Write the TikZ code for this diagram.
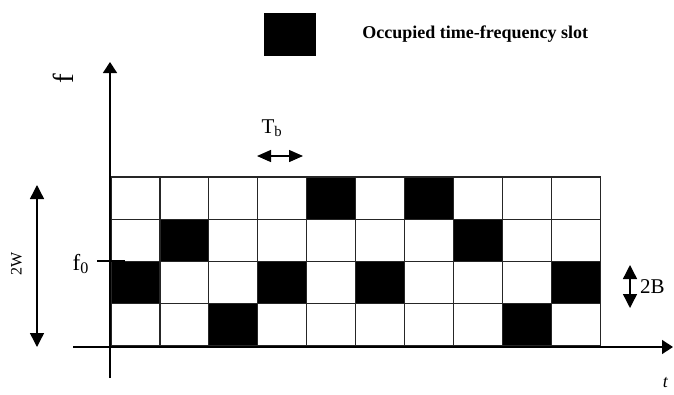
\documentclass[tikz,border=0pt]{standalone}
\usepackage{fontspec}
\setmainfont{Liberation Serif}
\usetikzlibrary{arrows.meta,positioning,calc}
\begin{document}
\begin{tikzpicture}[x=1pt,y=-1pt]
\useasboundingbox (0,0) rectangle (674,394);
\tikzstyle{slot} = [fill=black,draw=none,inner sep=0pt]
\tikzstyle{gridline} = [line width=1.1pt,draw=black!85]
\tikzstyle{axis} = [line width=1.4pt,-{Triangle[length=11pt,width=14pt]}]
\tikzstyle{span} = [line width=1.4pt,{Triangle[length=14pt,width=14pt]}-{Triangle[length=14pt,width=14pt]}]
\tikzstyle{lbl} = [inner sep=0pt,font=\fontsize{21}{21}\selectfont]
%%%%%%%%%%%%%%%%%%%%%%%%%%%%%
% legend
%%%%%%%%%%%%%%%%%%%%%%%%%%%%%
\node [slot,minimum width=52pt,minimum height=43pt] (key) at (290,34.5){};
\node (keytext) [anchor=west,inner sep=0pt,font=\fontsize{18}{18}\selectfont\bfseries] at ([xshift=46pt]key.east){Occupied time-frequency slot};
%%%%%%%%%%%%%%%%%%%%%%%%%%%%%
% occupied slots (column/row)
%%%%%%%%%%%%%%%%%%%%%%%%%%%%%
\foreach \c/\r in {5/1,7/1,2/2,8/2,1/3,4/3,6/3,10/3,3/4,9/4}
  \fill (111+48.95*\c-48.95,177+42.2*\r-42.2) rectangle ++(48.95,42.2);
\foreach \i in {0,...,10}
  \draw [gridline] (111+48.95*\i,177) -- (111+48.95*\i,346);
\foreach \j in {0,...,4}
  \draw [gridline] (111,177+42.2*\j) -- (600.5,177+42.2*\j);
%%%%%%%%%%%%%%%%%%%%%%%%%%%%%
% axes
%%%%%%%%%%%%%%%%%%%%%%%%%%%%%
\coordinate (fbot) at (110,378);
\coordinate (ftop) at (110,62);
\coordinate (tleft) at (73,347);
\coordinate (tright) at (673,347);
\draw [axis] (fbot) -- (ftop);
\draw [axis] (tleft) -- (tright);
\node (flbl) [lbl,rotate=90,font=\fontsize{29}{29}\selectfont] at (63,79){f};
\node (tlbl) [lbl,anchor=south east,font=\fontsize{18}{18}\selectfont\itshape] at (668,388){t};
%%%%%%%%%%%%%%%%%%%%%%%%%%%%%
% f0 marker
%%%%%%%%%%%%%%%%%%%%%%%%%%%%%
\coordinate (f0l) at (97,261);
\coordinate (f0r) at (125,261);
\draw [line width=1.2pt] (f0l) -- (f0r);
\node (f0) [lbl,anchor=east,font=\fontsize{23}{23}\selectfont] at ([xshift=-8pt,yshift=-3pt]f0l){f\textsubscript{0}};
%%%%%%%%%%%%%%%%%%%%%%%%%%%%%
% spans
%%%%%%%%%%%%%%%%%%%%%%%%%%%%%
\coordinate (tbl) at (257,156);
\coordinate (tbr) at (303,156);
\draw [span,{Triangle[length=14pt,width=12pt]}-{Triangle[length=14pt,width=12pt]}] (tbl) -- (tbr);
\node (tb) [lbl] at (272,128){T\textsubscript{b}};
\coordinate (wtop) at (37,185);
\coordinate (wbot) at (37,347);
\draw [span] (wtop) -- (wbot);
\node (wlbl) [lbl,rotate=90,font=\fontsize{16}{16}\selectfont] at (16.5,264){2W};
\coordinate (btop) at (630,265);
\coordinate (bbot) at (630,308);
\draw [span] (btop) -- (bbot);
\node (blbl) [lbl,anchor=west] at ([xshift=10pt]$(btop)!0.5!(bbot)$){2B};
\end{tikzpicture}
\end{document}
